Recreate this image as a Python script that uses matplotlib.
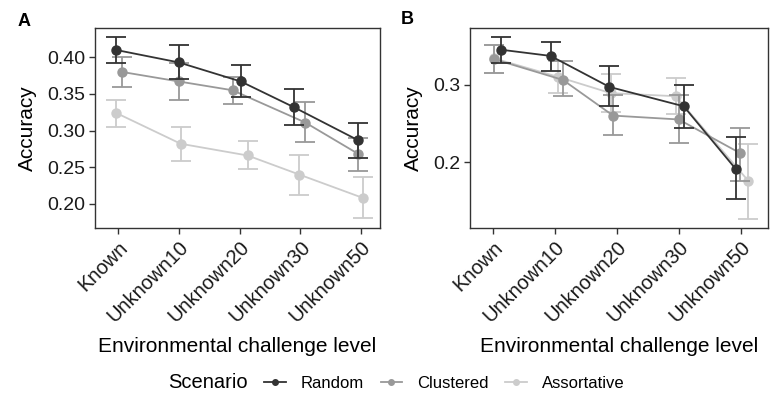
import matplotlib
matplotlib.use("Agg")
import matplotlib.pyplot as plt
from matplotlib.lines import Line2D
import numpy as np

plt.rcParams['font.family'] = ['Liberation Sans', 'DejaVu Sans']

categories = ["Known", "Unknown10", "Unknown20", "Unknown30", "Unknown50"]
scenarios = ["Random", "Clustered", "Assortative"]

# Panel A: mean, lower, upper
a_random = [0.410, 0.393, 0.367, 0.332, 0.287]
a_random_lo = [0.392, 0.371, 0.346, 0.308, 0.263]
a_random_hi = [0.428, 0.417, 0.389, 0.357, 0.310]
a_clustered = [0.380, 0.367, 0.355, 0.311, 0.268]
a_clustered_lo = [0.359, 0.342, 0.336, 0.284, 0.245]
a_clustered_hi = [0.400, 0.392, 0.373, 0.339, 0.290]
a_assort = [0.324, 0.282, 0.266, 0.240, 0.208]
a_assort_lo = [0.305, 0.259, 0.247, 0.212, 0.180]
a_assort_hi = [0.342, 0.305, 0.286, 0.267, 0.237]

# Panel B
b_random = [0.345, 0.337, 0.297, 0.272, 0.191]
b_random_lo = [0.328, 0.318, 0.272, 0.244, 0.152]
b_random_hi = [0.361, 0.355, 0.324, 0.299, 0.233]
b_clustered = [0.333, 0.306, 0.260, 0.255, 0.212]
b_clustered_lo = [0.315, 0.285, 0.235, 0.225, 0.176]
b_clustered_hi = [0.351, 0.330, 0.287, 0.286, 0.244]
b_assort = [0.334, 0.310, 0.289, 0.285, 0.176]
b_assort_lo = [0.315, 0.289, 0.264, 0.262, 0.127]
b_assort_hi = [0.351, 0.330, 0.314, 0.308, 0.223]

# horizontal jitter of points (layout)
a_jit = {"Random": [-0.03, 0.0, 0.02, -0.11, -0.055],
         "Clustered": [0.066, 0.0, -0.115, 0.08, -0.045],
         "Assortative": [-0.03, 0.03, 0.13, -0.02, 0.03]}
b_jit = {"Random": [0.13, -0.07, -0.12, 0.08, -0.08],
         "Clustered": [0.01, 0.13, -0.06, 0.0, -0.02],
         "Assortative": [0.01, 0.05, -0.10, -0.05, 0.12]}

colors = {"Random": "#333333", "Clustered": "#999999", "Assortative": "#cccccc"}

fig = plt.figure(figsize=(7.7, 3.94), dpi=100)
axA = fig.add_axes([95/770, 1-228/394, 285/770, 200/394])
axB = fig.add_axes([470/770, 1-228/394, 298/770, 200/394])

panelA = {"Random": (a_random, a_random_lo, a_random_hi),
          "Clustered": (a_clustered, a_clustered_lo, a_clustered_hi),
          "Assortative": (a_assort, a_assort_lo, a_assort_hi)}
panelB = {"Random": (b_random, b_random_lo, b_random_hi),
          "Clustered": (b_clustered, b_clustered_lo, b_clustered_hi),
          "Assortative": (b_assort, b_assort_lo, b_assort_hi)}

def draw(ax, data, jit, ylim, xlim, yticks, ylabels):
    x0 = np.arange(len(categories))
    z = {"Random": 3, "Clustered": 2, "Assortative": 1}
    for s in scenarios:
        m, lo, hi = (np.array(v) for v in data[s])
        x = x0 + np.array(jit[s])
        ax.errorbar(x, m, yerr=[m - lo, hi - m], color=colors[s], lw=1.3,
                    elinewidth=1.3, capsize=7, capthick=1.3, marker='o',
                    markersize=6.5, zorder=z[s])
    ax.set_xlim(*xlim)
    ax.set_ylim(*ylim)
    ax.set_xticks(x0)
    ax.set_xticklabels(categories, rotation=45, ha='right', rotation_mode='anchor',
                       fontsize=14.5, color='#1a1a1a')
    ax.set_yticks(yticks)
    ax.set_yticklabels(ylabels, fontsize=14, color='#1a1a1a')
    ax.tick_params(length=4, width=1, color='#333333', pad=3)
    for sp in ax.spines.values():
        sp.set_color('#333333')
        sp.set_linewidth(1)
    ax.set_ylabel("Accuracy", fontsize=15, labelpad=7)
    ax.set_xlabel("Environmental challenge level", fontsize=15, labelpad=8)

draw(axA, panelA, a_jit, (0.167, 0.44), (-0.38, 4.31),
     [0.20, 0.25, 0.30, 0.35, 0.40], ["0.20", "0.25", "0.30", "0.35", "0.40"])
draw(axB, panelB, b_jit, (0.115, 0.373), (-0.37, 4.44),
     [0.2, 0.3], ["0.2", "0.3"])

fig.text(18/770, 1-21/394, "A", fontsize=13, fontweight='bold', va='center', ha='left')
fig.text(401/770, 1-20/394, "B", fontsize=13, fontweight='bold', va='center', ha='left')

fig.text(168/770, 1-383/394, "Scenario", fontsize=14.5, va='center', ha='left')
handles = [Line2D([0], [0], color=colors[s], lw=1.3, marker='o', markersize=4)
           for s in scenarios]
fig.legend(handles, scenarios, loc='center left', bbox_to_anchor=(264/770, 1-383/394),
           ncol=3, frameon=False, fontsize=12, handlelength=1.3, handletextpad=0.9,
           columnspacing=1.0, borderaxespad=0, borderpad=0)

fig.savefig("out.png", dpi=100)
